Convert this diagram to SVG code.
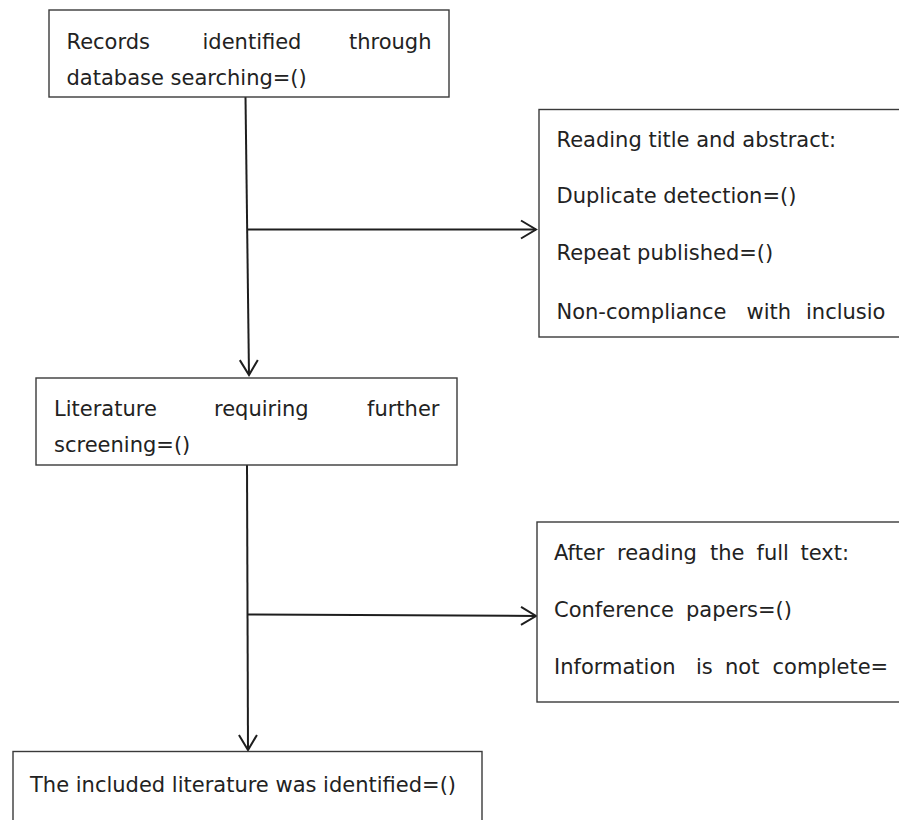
<svg xmlns="http://www.w3.org/2000/svg" width="899" height="820" viewBox="0 0 899 820">
<style>
.box{fill:#fff;stroke:#3a3a3a;stroke-width:1.4}
.t{font-family:"DejaVu Sans","Noto Sans CJK SC",sans-serif;font-size:21px;fill:#222}
.c{stroke:#1e1e1e;stroke-width:2;fill:none}
</style>
<defs>
<marker id="arr" markerUnits="userSpaceOnUse" markerWidth="30" markerHeight="30" refX="0" refY="0" orient="auto" overflow="visible">
<path d="M-15,-9 L0,0 L-15,9" fill="none" stroke="#1e1e1e" stroke-width="2"/>
</marker>
</defs>
<rect width="899" height="820" fill="#fff"/>
<g id="connectors">
<line class="c" x1="245.5" y1="97" x2="249" y2="375" marker-end="url(#arr)"/>
<line class="c" x1="247" y1="229.5" x2="536" y2="229.5" marker-end="url(#arr)"/>
<line class="c" x1="247" y1="465" x2="248" y2="750" marker-end="url(#arr)"/>
<line class="c" x1="248" y1="614.5" x2="536" y2="616" marker-end="url(#arr)"/>
</g>
<g id="records">
<rect class="box" x="49" y="10" width="400" height="87"/>
<text class="t" y="49"><tspan x="66.5">Records</tspan><tspan x="202.5">identified</tspan><tspan x="349">through</tspan></text>
<text class="t" x="66.5" y="85">database searching=()</text>
</g>
<g id="excluded1">
<rect class="box" x="539" y="109.5" width="420" height="227.5"/>
<text class="t" x="556.5" y="146.5">Reading title and abstract:</text>
<text class="t" x="556.5" y="203">Duplicate detection=()</text>
<text class="t" x="556.5" y="260">Repeat published=()</text>
<text class="t" y="318.5"><tspan x="556.5">Non-compliance</tspan><tspan x="746.5">with</tspan><tspan x="806">inclusio</tspan></text>
</g>
<g id="screening">
<rect class="box" x="36" y="378" width="421" height="87"/>
<text class="t" y="416"><tspan x="54">Literature</tspan><tspan x="214">requiring</tspan><tspan x="367">further</tspan></text>
<text class="t" x="54" y="451.5">screening=()</text>
</g>
<g id="excluded2">
<rect class="box" x="537" y="522" width="420" height="180"/>
<text class="t" y="559.5"><tspan x="554">After</tspan><tspan x="617">reading</tspan><tspan x="710">the</tspan><tspan x="756.5">full</tspan><tspan x="800.5">text:</tspan></text>
<text class="t" y="616.5"><tspan x="554">Conference</tspan><tspan x="686">papers=()</tspan></text>
<text class="t" y="673.5"><tspan x="554">Information</tspan><tspan x="696">is</tspan><tspan x="725">not</tspan><tspan x="772.5">complete=</tspan></text>
</g>
<g id="included">
<rect class="box" x="13" y="751.5" width="469" height="100"/>
<text class="t" x="30" y="791.5">The included literature was identified=()</text>
</g>
</svg>
